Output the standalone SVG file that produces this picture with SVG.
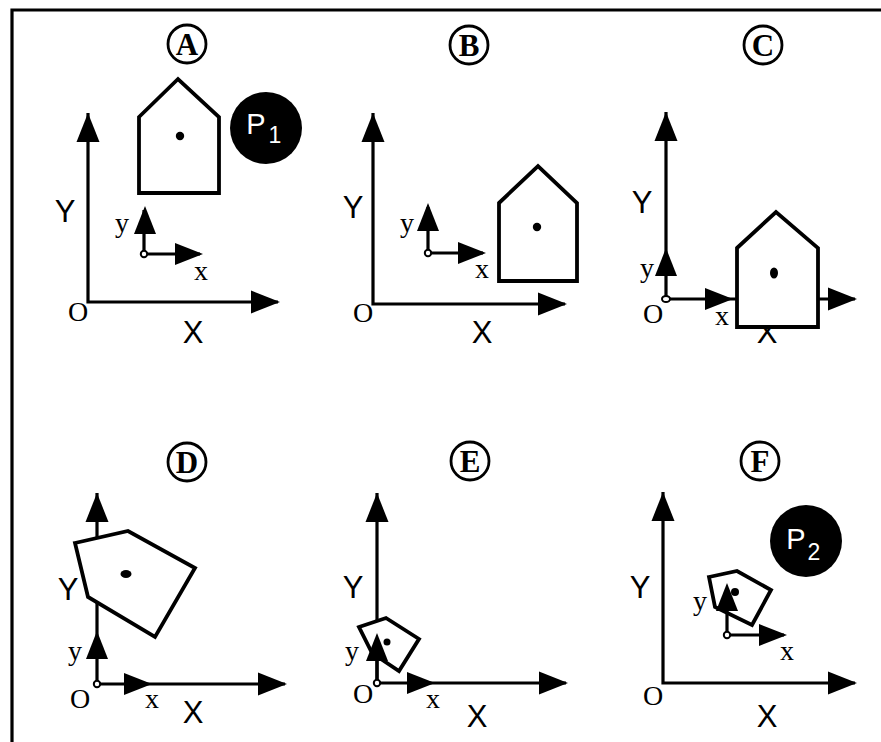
<svg xmlns="http://www.w3.org/2000/svg" xmlns:xlink="http://www.w3.org/1999/xlink" width="881" height="742" viewBox="0 0 881 742">
<style>
.ax{stroke:#000;stroke-width:3.2;fill:none}
.hs{stroke:#000;stroke-width:3.8;fill:#fff;stroke-linejoin:miter}
.org{stroke:#000;stroke-width:2;fill:#fff}
.big{font-family:"Liberation Sans",Arial,sans-serif;font-size:31px;fill:#000;text-anchor:middle}
.sm{font-family:"Liberation Serif","Times New Roman",serif;font-size:28px;fill:#000;text-anchor:middle}
.lab{font-family:"Liberation Serif","Times New Roman",serif;font-size:31px;font-weight:bold;fill:#000;text-anchor:middle}
.lc{stroke:#000;stroke-width:2.8;fill:#fff}
.pt{font-family:"Liberation Sans",Arial,sans-serif;fill:#fff;text-anchor:middle}
</style>
<defs>
<path id="ah" d="M0,0 L-29,-11.5 L-29,11.5 Z" fill="#000"/>
<path id="sh" d="M0,0 L-28,-11 L-28,11 Z" fill="#000"/>
</defs>
<rect width="881" height="742" fill="#fff"/>
<g id="frame">
<path d="M12,742 V10 H881" class="ax" stroke-width="3.5"/>
</g>

<g id="panelA">
<circle cx="187" cy="44" r="19" class="lc"/><text x="187" y="55" class="lab">A</text>
<path d="M88,113 V302 H278" class="ax"/>
<use href="#ah" transform="translate(88,113) rotate(-90)"/>
<use href="#ah" transform="translate(280,302)"/>
<text x="65" y="222" class="big">Y</text>
<text x="193" y="343" class="big">X</text>
<text x="78" y="321" class="sm">O</text>
<polygon points="139,117 178,79 219,117 219,193 139,193" class="hs"/>
<circle cx="180" cy="136" r="4.2"/>
<circle cx="266" cy="128" r="36" fill="#000"/>
<text x="256" y="134" class="pt" font-size="29">P</text>
<text x="275" y="143" class="pt" font-size="23">1</text>
<path d="M144,254 V210 M144,254 H200" class="ax"/>
<use href="#sh" transform="translate(145,206) rotate(-90)"/>
<use href="#sh" transform="translate(203,254)"/>
<circle cx="144" cy="254" r="3.2" class="org"/>
<text x="122" y="232" class="sm">y</text>
<text x="201" y="280" class="sm">x</text>
</g>

<g id="panelB">
<circle cx="469" cy="45" r="19" class="lc"/><text x="469" y="56" class="lab">B</text>
<path d="M373,113 V304 H565" class="ax"/>
<use href="#ah" transform="translate(373,113) rotate(-90)"/>
<use href="#ah" transform="translate(567,304)"/>
<text x="353" y="218" class="big">Y</text>
<text x="482" y="343" class="big">X</text>
<text x="363" y="322" class="sm">O</text>
<polygon points="499,203 538,166 577,203 577,281 499,281" class="hs"/>
<circle cx="537" cy="227" r="4.2"/>
<path d="M428,253 V207 M428,253 H483" class="ax"/>
<use href="#sh" transform="translate(428,203) rotate(-90)"/>
<use href="#sh" transform="translate(486,253)"/>
<circle cx="428" cy="253" r="3.2" class="org"/>
<text x="407" y="232" class="sm">y</text>
<text x="482" y="278" class="sm">x</text>
</g>

<g id="panelC">
<circle cx="763" cy="45" r="19" class="lc"/><text x="763" y="56" class="lab">C</text>
<path d="M666,112 V299 H855" class="ax"/>
<use href="#ah" transform="translate(666,112) rotate(-90)"/>
<use href="#ah" transform="translate(857,299)"/>
<text x="642" y="213" class="big">Y</text>
<text x="767" y="343" class="big">X</text>
<polygon points="737,248 776,212 818,248 818,327 737,327" class="hs"/>
<ellipse cx="774" cy="273" rx="4" ry="5.5"/>
<use href="#sh" transform="translate(666,248) rotate(-90)"/>
<use href="#sh" transform="translate(733,299)"/>
<ellipse cx="666" cy="299" rx="4" ry="3" class="org"/>
<text x="653" y="323" class="sm">O</text>
<text x="647" y="277" class="sm">y</text>
<text x="722" y="325" class="sm">x</text>
</g>

<g id="panelD">
<circle cx="187" cy="462" r="19" class="lc"/><text x="187" y="473" class="lab">D</text>
<path d="M97,493 V684 H285" class="ax"/>
<use href="#ah" transform="translate(97,493) rotate(-90)"/>
<use href="#ah" transform="translate(287,684)"/>
<text x="68" y="600" class="big">Y</text>
<text x="193" y="723" class="big">X</text>
<polygon points="75,543 128,531 195,568 155,637 88,597" class="hs"/>
<ellipse cx="126" cy="574" rx="5.5" ry="4"/>
<use href="#sh" transform="translate(97,631) rotate(-90)"/>
<use href="#sh" transform="translate(152,684)"/>
<circle cx="97" cy="684" r="3.2" class="org"/>
<text x="80" y="708" class="sm">O</text>
<text x="75" y="660" class="sm">y</text>
<text x="152" y="708" class="sm">x</text>
</g>

<g id="panelE">
<circle cx="470" cy="461" r="19" class="lc"/><text x="470" y="472" class="lab">E</text>
<path d="M377,493 V683 H566" class="ax"/>
<use href="#ah" transform="translate(377,493) rotate(-90)"/>
<use href="#ah" transform="translate(568,683)"/>
<text x="353" y="598" class="big">Y</text>
<text x="477" y="727" class="big">X</text>
<polygon points="359,627 386,618 419,639 399,671 372,653" class="hs"/>
<circle cx="387" cy="642" r="3.5"/>
<path d="M377,683 V640" class="ax"/>
<use href="#sh" transform="translate(377,633) rotate(-90)"/>
<use href="#sh" transform="translate(435,683)"/>
<circle cx="377" cy="683" r="3.2" class="org"/>
<text x="363" y="703" class="sm">O</text>
<text x="352" y="660" class="sm">y</text>
<text x="433" y="708" class="sm">x</text>
</g>

<g id="panelF">
<circle cx="760" cy="461" r="19" class="lc"/><text x="760" y="472" class="lab">F</text>
<path d="M663,492 V683 H855" class="ax"/>
<use href="#ah" transform="translate(663,492) rotate(-90)"/>
<use href="#ah" transform="translate(857,683)"/>
<text x="640" y="598" class="big">Y</text>
<text x="767" y="727" class="big">X</text>
<text x="653" y="705" class="sm">O</text>
<circle cx="806" cy="541" r="36" fill="#000"/>
<text x="796" y="549" class="pt" font-size="29">P</text>
<text x="814" y="560" class="pt" font-size="23">2</text>
<polygon points="709,577 737,571 771,590 752,625 715,607" class="hs"/>
<circle cx="735" cy="592" r="4"/>
<path d="M727,635 V590 M727,635 H784" class="ax"/>
<use href="#sh" transform="translate(727,583) rotate(-90)"/>
<use href="#sh" transform="translate(787,635)"/>
<circle cx="727" cy="635" r="3.2" class="org"/>
<text x="700" y="610" class="sm">y</text>
<text x="787" y="660" class="sm">x</text>
</g>
</svg>
